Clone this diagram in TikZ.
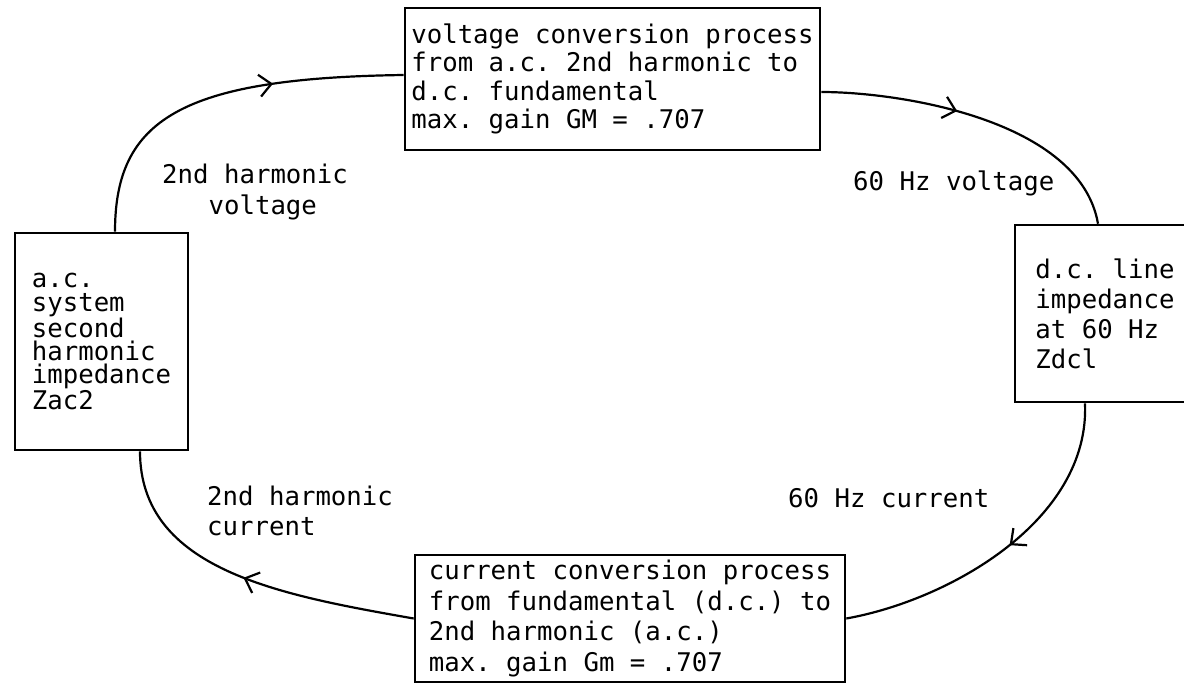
\documentclass[tikz,border=0pt]{standalone}
\usepackage{fontspec}
\setmonofont{DejaVu Sans Mono}
\usetikzlibrary{arrows.meta,decorations.markings}

\tikzset{
  box/.style={draw, line width=2.6pt, inner sep=0pt, align=left},
  lbl/.style={anchor=west, inner sep=0pt, align=left},
  flow/.style={line width=2.2pt},
  midarrow/.style={postaction={decorate,decoration={markings,
    mark=at position #1 with {\arrow{Straight Barb[length=12pt,width=22pt,line width=2.2pt]}}}}}
}
\newcommand{\tw}[1]{\ttfamily\fontsize{25.7}{#1}\selectfont}

\begin{document}
\begin{tikzpicture}[x=1pt, y=-1pt]
  \useasboundingbox (0,0) rectangle (1184,685);
  % Boxes
  \node[box, minimum width=415pt, minimum height=142pt, font=\tw{28.5}] (vconv) at (612.5,79)
    {voltage conversion process\\from a.c. 2nd harmonic to\\d.c. fundamental\\max. gain GM = .707};
  \node[box, minimum width=180pt, minimum height=177pt, font=\tw{30}] (zdc) at (1105,313.5)
    {d.c. line\\impedance\\at 60 Hz\\Zdcl};
  \node[box, minimum width=430pt, minimum height=127pt, font=\tw{30.5}] (cconv) at (630,618.5)
    {current conversion process\\from fundamental (d.c.) to\\2nd harmonic (a.c.)\\max. gain Gm = .707};
  \node[box, minimum width=173pt, minimum height=217pt, font=\tw{23.4}] (zac) at (101.5,341.5)
    {a.c.\\system\\second\\harmonic\\impedance\\Zac2};
  % Labels
  \node[lbl, font=\tw{31}] (lblhv) at (162,192) {2nd harmonic\\\phantom{2nd}voltage};
  \node[lbl, font=\tw{30}] (lblfv) at (853,183) {60 Hz voltage};
  \node[lbl, font=\tw{30}] (lblfc) at (788,498) {60 Hz current};
  \node[lbl, font=\tw{30}] (lblhc) at (207,511) {2nd harmonic\\current};
  % Loop
  \draw[flow, midarrow=0.65] ([xshift=13.5pt]zac.north) .. controls (115,120) and (180,78) .. ([yshift=4pt]vconv.west);
  \draw[flow, midarrow=0.42] ([yshift=-13pt]vconv.east) .. controls (900,92) and (1080,120) .. ([xshift=-7pt]zdc.north);
  \draw[flow, midarrow=0.48] ([xshift=-20pt]zdc.south) .. controls (1090,520) and (950,600) .. (cconv.east);
  \draw[flow, midarrow=0.5] (cconv.west) .. controls (280,595) and (140,570) .. ([xshift=38.5pt]zac.south);
\end{tikzpicture}
\end{document}
